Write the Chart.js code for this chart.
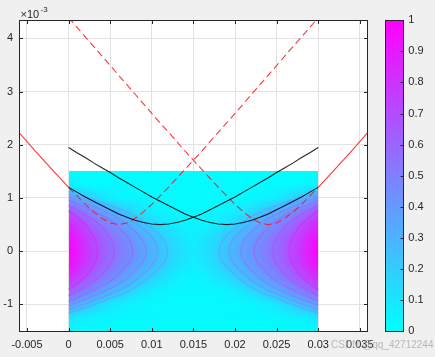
<!DOCTYPE html>
<html><head><meta charset="utf-8">
<script src="https://cdn.jsdelivr.net/npm/chart.js@4.4.1/dist/chart.umd.min.js"></script>
<style>
html,body{margin:0;padding:0;background:#f0f0f0;}
#wrap{position:relative;width:435px;height:357px;overflow:hidden;}
canvas{position:absolute;left:0;top:0;}
</style></head><body>
<div id="wrap"><canvas id="main" width="435" height="357" style="width:435px;height:357px"></canvas><canvas id="cbar" width="435" height="357" style="width:435px;height:357px"></canvas></div>
<script>
const FONT = '"Liberation Sans", Arial, Helvetica, sans-serif';
const AX = '#262626';

// ---- axis ticks ----
const xTickValues = [-0.005, 0, 0.005, 0.01, 0.015, 0.02, 0.025, 0.03, 0.035];
const xTickLabels = ['-0.005', '0', '0.005', '0.01', '0.015', '0.02', '0.025', '0.03', '0.035'];
const yTickValues = [-1, 0, 1, 2, 3, 4];           // units of 1e-3
const yTickLabels = ['-1', '0', '1', '2', '3', '4'];
const cbTickValues = [0, 0.1, 0.2, 0.3, 0.4, 0.5, 0.6, 0.7, 0.8, 0.9, 1];
const cbTickLabels = ['0', '0.1', '0.2', '0.3', '0.4', '0.5', '0.6', '0.7', '0.8', '0.9', '1'];

// ---- field (colour map values) on a grid ----
const fieldX = [0, 0.0015, 0.003, 0.0045, 0.006, 0.0075, 0.009, 0.0105, 0.012, 0.0135, 0.015,
                0.0165, 0.018, 0.0195, 0.021, 0.0225, 0.024, 0.0255, 0.027, 0.0285, 0.03];
const fieldY = [-1.5, -1.25, -1.0, -0.75, -0.5, -0.25, 0, 0.25, 0.5, 0.75, 1.0, 1.25, 1.5];
const fieldValues = [
 [0.03,0.02,0.02,0.02,0.02,0.02,0.02,0.02,0.02,0.02,0.02,0.02,0.02,0.02,0.02,0.02,0.02,0.02,0.02,0.02,0.03],
 [0.10,0.07,0.05,0.035,0.03,0.03,0.03,0.03,0.03,0.03,0.03,0.03,0.03,0.03,0.03,0.03,0.03,0.035,0.05,0.07,0.10],
 [0.38,0.28,0.19,0.11,0.07,0.045,0.03,0.025,0.02,0.02,0.02,0.02,0.02,0.025,0.03,0.045,0.07,0.11,0.19,0.28,0.38],
 [0.65,0.53,0.44,0.33,0.24,0.16,0.10,0.055,0.04,0.03,0.03,0.03,0.04,0.055,0.10,0.16,0.24,0.33,0.44,0.53,0.65],
 [0.86,0.72,0.60,0.50,0.41,0.32,0.24,0.15,0.10,0.05,0.04,0.05,0.10,0.15,0.24,0.32,0.41,0.50,0.60,0.72,0.86],
 [0.96,0.83,0.70,0.59,0.50,0.42,0.33,0.25,0.16,0.10,0.06,0.10,0.16,0.25,0.33,0.42,0.50,0.59,0.70,0.83,0.96],
 [1.00,0.86,0.73,0.62,0.53,0.45,0.37,0.28,0.19,0.12,0.08,0.12,0.19,0.28,0.37,0.45,0.53,0.62,0.73,0.86,1.00],
 [0.96,0.83,0.70,0.59,0.50,0.42,0.33,0.24,0.16,0.10,0.06,0.10,0.16,0.24,0.33,0.42,0.50,0.59,0.70,0.83,0.96],
 [0.87,0.74,0.60,0.50,0.42,0.32,0.23,0.15,0.09,0.05,0.04,0.05,0.09,0.15,0.23,0.32,0.42,0.50,0.60,0.74,0.87],
 [0.70,0.55,0.45,0.33,0.25,0.16,0.09,0.05,0.035,0.03,0.03,0.03,0.035,0.05,0.09,0.16,0.25,0.33,0.45,0.55,0.70],
 [0.40,0.26,0.17,0.09,0.05,0.035,0.03,0.02,0.02,0.02,0.02,0.02,0.02,0.02,0.03,0.035,0.05,0.09,0.17,0.26,0.40],
 [0.05,0.03,0.02,0.02,0.02,0.02,0.02,0.02,0.02,0.02,0.02,0.02,0.02,0.02,0.02,0.02,0.02,0.02,0.02,0.03,0.05],
 [0.01,0.01,0.01,0.01,0.01,0.01,0.01,0.01,0.01,0.01,0.01,0.01,0.01,0.01,0.01,0.01,0.01,0.01,0.01,0.01,0.01]
];

// ---- contour bands (x, y·1e3) and their colour values ----
const bandL1 = [[0,0.76],[0.00126,0.61],[0.00263,0.38],[0.0035,0],[0.00263,-0.36],[0.00126,-0.58],[0,-0.72]];
const bandL2 = [[0,0.86],[0.00198,0.69],[0.00413,0.43],[0.0055,0],[0.00413,-0.42],[0.00198,-0.67],[0,-0.84]];
const bandL3 = [[0,0.96],[0.00277,0.77],[0.00578,0.48],[0.0077,0],[0.00578,-0.47],[0.00277,-0.75],[0,-0.94]];
const bandL4 = [[0,1.02],[0.00335,0.82],[0.00698,0.51],[0.0093,0],[0.00698,-0.51],[0.00335,-0.82],[0,-1.02]];
const bandL5 = [[0,1.07],[0.00385,0.86],[0.00803,0.54],[0.0107,0],[0.00803,-0.55],[0.00385,-0.88],[0,-1.1]];
const bandL6 = [[0,1.12],[0.00428,0.9],[0.00893,0.56],[0.0119,0],[0.00893,-0.58],[0.00428,-0.93],[0,-1.16]];
const bandR1 = [[0.03,0.76],[0.02874,0.61],[0.02737,0.38],[0.0265,0],[0.02737,-0.36],[0.02874,-0.58],[0.03,-0.72]];
const bandR2 = [[0.03,0.86],[0.02802,0.69],[0.02587,0.43],[0.0245,0],[0.02587,-0.42],[0.02802,-0.67],[0.03,-0.84]];
const bandR3 = [[0.03,0.96],[0.02723,0.77],[0.02422,0.48],[0.0223,0],[0.02422,-0.47],[0.02723,-0.75],[0.03,-0.94]];
const bandR4 = [[0.03,1.02],[0.02665,0.82],[0.02302,0.51],[0.0207,0],[0.02302,-0.51],[0.02665,-0.82],[0.03,-1.02]];
const bandR5 = [[0.03,1.07],[0.02615,0.86],[0.02197,0.54],[0.0193,0],[0.02197,-0.55],[0.02615,-0.88],[0.03,-1.1]];
const bandR6 = [[0.03,1.12],[0.02572,0.9],[0.02107,0.56],[0.0181,0],[0.02107,-0.58],[0.02572,-0.93],[0.03,-1.16]];
const bandLevels = [0.82, 0.68, 0.58, 0.50, 0.42, 0.35];

// ---- curves (y in units of 1e-3) ----
const xInner = [0,0.001,0.002,0.003,0.004,0.005,0.006,0.007,0.008,0.009,0.01,0.011,0.012,0.013,0.014,0.015,
                0.016,0.017,0.018,0.019,0.02,0.021,0.022,0.023,0.024,0.025,0.026,0.027,0.028,0.029,0.03];
const redDashA = [1.20,1.04,0.88,0.74,0.62,0.53,0.50,0.53,0.62,0.74,0.88,1.04,1.20,1.37,1.54,1.71,
                  1.88,2.06,2.24,2.41,2.59,2.77,2.95,3.13,3.31,3.49,3.67,3.85,4.03,4.21,4.39];
const redDashB = [4.39,4.21,4.03,3.85,3.67,3.49,3.31,3.13,2.95,2.77,2.59,2.41,2.24,2.06,1.88,1.71,
                  1.54,1.37,1.20,1.04,0.88,0.74,0.62,0.53,0.50,0.53,0.62,0.74,0.88,1.04,1.20];
const blackP = [1.20,1.11,1.02,0.94,0.86,0.78,0.70,0.64,0.58,0.54,0.51,0.50,0.51,0.54,0.58,0.64,
                0.70,0.78,0.86,0.94,1.02,1.11,1.20,1.29,1.38,1.48,1.57,1.66,1.76,1.85,1.95];
const blackQ = [1.95,1.85,1.76,1.66,1.57,1.48,1.38,1.29,1.20,1.11,1.02,0.94,0.86,0.78,0.70,0.64,
                0.58,0.54,0.51,0.50,0.51,0.54,0.58,0.64,0.70,0.78,0.86,0.94,1.02,1.11,1.20];
const xOuterLeft = [-0.006, -0.004, -0.002, 0];
const redSolidLeft = [2.24, 1.88, 1.54, 1.20];
const xOuterRight = [0.03, 0.032, 0.034, 0.036];
const redSolidRight = [1.20, 1.54, 1.88, 2.24];

// ---- helpers ----
function cool(v){ v = Math.max(0, Math.min(1, v)); return [Math.round(255*v), Math.round(255*(1-v)), 255]; }
function coolCss(v, a){ const c = cool(v); return `rgba(${c[0]},${c[1]},${c[2]},${a})`; }
function idx(arr, v){ let i = 0; while (i < arr.length-2 && v > arr[i+1]) i++; return i; }
function sampleField(x, y){
  const i = idx(fieldX, x), j = idx(fieldY, y);
  let tx = (x - fieldX[i]) / (fieldX[i+1] - fieldX[i]); tx = Math.max(0, Math.min(1, tx));
  let ty = (y - fieldY[j]) / (fieldY[j+1] - fieldY[j]); ty = Math.max(0, Math.min(1, ty));
  const a = fieldValues[j][i], b = fieldValues[j][i+1], c = fieldValues[j+1][i], d = fieldValues[j+1][i+1];
  return (a*(1-tx) + b*tx)*(1-ty) + (c*(1-tx) + d*tx)*ty;
}
const pts = (xs, ys) => xs.map((x, i) => ({x, y: ys[i]}));
const bandPts = b => b.map(p => ({x: p[0], y: p[1]}));

const heatPlugin = {
  id: 'heat',
  beforeDraw(chart){
    const {ctx, chartArea: a} = chart;
    ctx.save(); ctx.fillStyle = '#ffffff'; ctx.fillRect(a.left, a.top, a.width, a.height); ctx.restore();
  },
  beforeDatasetsDraw(chart){
    const {ctx, scales: {x: sx, y: sy}} = chart;
    const x0 = Math.round(sx.getPixelForValue(fieldX[0])), x1 = Math.round(sx.getPixelForValue(fieldX[fieldX.length-1]));
    const y0 = Math.round(sy.getPixelForValue(fieldY[fieldY.length-1])), y1 = Math.round(sy.getPixelForValue(fieldY[0]));
    const w = x1 - x0, h = y1 - y0;
    const off = document.createElement('canvas'); off.width = w; off.height = h;
    const octx = off.getContext('2d'); const img = octx.createImageData(w, h);
    for (let py = 0; py < h; py++){
      const vy = sy.getValueForPixel(y0 + py + 0.5);
      for (let px = 0; px < w; px++){
        const vx = sx.getValueForPixel(x0 + px + 0.5);
        const c = cool(sampleField(vx, vy));
        const k = (py*w + px)*4;
        img.data[k] = c[0]; img.data[k+1] = c[1]; img.data[k+2] = c[2]; img.data[k+3] = 255;
      }
    }
    octx.putImageData(img, 0, 0);
    ctx.save();
    ctx.drawImage(off, x0, y0);
    ctx.restore();
  },
  afterDraw(chart){
    const {ctx, chartArea: a, scales: {x: sx, y: sy}} = chart;
    ctx.save();
    const L = Math.floor(a.left) + 0.5, R = Math.floor(a.right) + 0.5, T = Math.floor(a.top) + 0.5, B = Math.floor(a.bottom) + 0.5;
    ctx.strokeStyle = AX; ctx.lineWidth = 1;
    ctx.strokeRect(L, T, R - L, B - T);
    ctx.beginPath();
    xTickValues.forEach(v => {
      const p = Math.round(sx.getPixelForValue(v)) + 0.5;
      ctx.moveTo(p, B); ctx.lineTo(p, B - 3.5);
      ctx.moveTo(p, T); ctx.lineTo(p, T + 3.5);
    });
    yTickValues.forEach(v => {
      const p = Math.round(sy.getPixelForValue(v)) + 0.5;
      ctx.moveTo(L, p); ctx.lineTo(L + 3.5, p);
      ctx.moveTo(R, p); ctx.lineTo(R - 3.5, p);
    });
    ctx.stroke();
    // exponent label
    ctx.fillStyle = AX; ctx.textBaseline = 'alphabetic'; ctx.textAlign = 'left';
    ctx.font = '11px ' + FONT; ctx.fillText('\u00d710', 20.5, 17.5);
    ctx.font = '8px ' + FONT; ctx.fillText('-3', 40.5, 11.5);
    // watermark
    ctx.font = '10px ' + FONT; ctx.fillStyle = 'rgba(165,165,165,0.75)';
    ctx.fillText('CSDN @qq_42712244', 331, 348);
    ctx.restore();
  }
};

const lineDs = (data, color, dash) => ({data, showLine: true, borderColor: color, borderWidth: 1.1, borderDash: dash || [], pointRadius: 0, tension: 0, fill: false});
const bandDs = (b, v) => ({data: bandPts(b), showLine: true, borderColor: coolCss(v, 0.7), borderWidth: 1.6, pointRadius: 0, tension: 0.4, fill: false});

const bandsLeft = [bandL1, bandL2, bandL3, bandL4, bandL5, bandL6];
const bandsRight = [bandR1, bandR2, bandR3, bandR4, bandR5, bandR6];

const datasets = [
  lineDs(pts(xInner, blackP), 'rgba(0,0,0,0.85)'),
  lineDs(pts(xInner, blackQ), 'rgba(0,0,0,0.85)'),
  lineDs(pts(xInner, redDashA), 'rgba(255,20,20,0.85)', [7, 4]),
  lineDs(pts(xInner, redDashB), 'rgba(255,20,20,0.85)', [7, 4]),
  lineDs(pts(xOuterLeft, redSolidLeft), 'rgba(255,20,20,0.85)'),
  lineDs(pts(xOuterRight, redSolidRight), 'rgba(255,20,20,0.85)'),
  ...bandsLeft.map((b, i) => bandDs(b, bandLevels[i])),
  ...bandsRight.map((b, i) => bandDs(b, bandLevels[i]))
];

const tickFont = {family: FONT, size: 11};

new Chart(document.getElementById('main'), {
  type: 'scatter',
  data: {datasets},
  options: {
    responsive: false, animation: false, devicePixelRatio: 1,
    layout: {padding: {left: 0, right: 67.7, top: 20.3, bottom: 0}},
    plugins: {legend: {display: false}, tooltip: {enabled: false}},
    scales: {
      x: {
        type: 'linear', min: -0.0059, max: 0.0359,
        afterFit(s){ s.height = 26; },
        afterBuildTicks(s){ s.ticks = xTickValues.map(v => ({value: v})); },
        ticks: {font: tickFont, color: AX, padding: 7, maxRotation: 0, autoSkip: false,
                callback: (v) => xTickLabels[xTickValues.indexOf(v)]},
        grid: {color: '#e2e2e2', drawTicks: false},
        border: {display: false}
      },
      y: {
        type: 'linear', min: -1.5, max: 4.34,
        afterFit(s){ s.width = 19.5; },
        afterBuildTicks(s){ s.ticks = yTickValues.map(v => ({value: v})); },
        ticks: {font: tickFont, color: AX, padding: 6.5, autoSkip: false,
                callback: (v) => yTickLabels[yTickValues.indexOf(v)]},
        grid: {color: '#e2e2e2', drawTicks: false},
        border: {display: false}
      }
    }
  },
  plugins: [heatPlugin]
});

const cbPlugin = {
  id: 'cbar',
  beforeDatasetsDraw(chart){
    const {ctx, chartArea: a, scales: {y}} = chart;
    const g = ctx.createLinearGradient(0, y.getPixelForValue(0), 0, y.getPixelForValue(1));
    g.addColorStop(0, coolCss(0, 1)); g.addColorStop(1, coolCss(1, 1));
    ctx.save(); ctx.fillStyle = g; ctx.fillRect(a.left, a.top, a.width, a.height); ctx.restore();
  },
  afterDraw(chart){
    const {ctx, chartArea: a, scales: {y}} = chart;
    ctx.save();
    const L = Math.floor(a.left) + 0.5, R = Math.floor(a.right) + 0.5, T = Math.floor(a.top) + 0.5, B = Math.floor(a.bottom) + 0.5;
    ctx.strokeStyle = AX; ctx.lineWidth = 1; ctx.strokeRect(L, T, R - L, B - T);
    ctx.beginPath();
    cbTickValues.forEach(v => { const p = Math.round(y.getPixelForValue(v)) + 0.5; ctx.moveTo(R - 3, p); ctx.lineTo(R, p); });
    ctx.stroke();
    ctx.restore();
  }
};

new Chart(document.getElementById('cbar'), {
  type: 'scatter',
  data: {datasets: [{data: []}]},
  options: {
    responsive: false, animation: false, devicePixelRatio: 1,
    layout: {padding: {left: 385.3, right: 0, top: 20.3, bottom: 26}},
    plugins: {legend: {display: false}, tooltip: {enabled: false}},
    scales: {
      x: {display: false, min: 0, max: 1},
      y: {
        position: 'right', min: 0, max: 1,
        afterFit(s){ s.width = 31.7; },
        afterBuildTicks(s){ s.ticks = cbTickValues.map(v => ({value: v})); },
        ticks: {font: tickFont, color: AX, padding: 5, autoSkip: false,
                callback: (v) => cbTickLabels[cbTickValues.indexOf(v)]},
        grid: {display: false, drawTicks: false},
        border: {display: false}
      }
    }
  },
  plugins: [cbPlugin]
});
</script>
</body></html>
